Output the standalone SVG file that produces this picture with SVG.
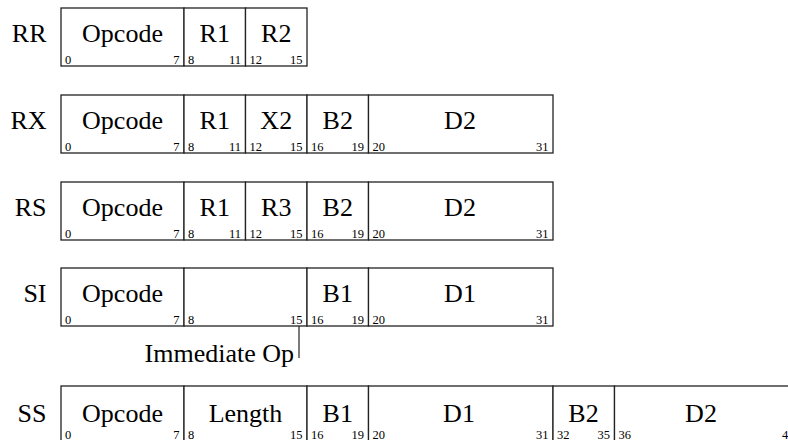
<svg xmlns="http://www.w3.org/2000/svg" width="788" height="440" viewBox="0 0 788 440">
<style>
text{font-family:"Liberation Serif","Times New Roman",serif;fill:#000}
.c{fill:#fff;stroke:#222;stroke-width:1.3}
.t{font-size:26px;text-anchor:middle}
.l{font-size:26px;text-anchor:end}
.n{font-size:12.5px}
.e{text-anchor:end}
</style>
<rect width="788" height="440" fill="#fff"/>
<g id="RR" transform="translate(0,8)">
<text class="l" x="46.5" y="34">RR</text>
<rect class="c" x="61" y="0" width="123" height="58"/>
<rect class="c" x="184" y="0" width="61.5" height="58"/>
<rect class="c" x="245.5" y="0" width="61.5" height="58"/>
<text class="t" x="122.5" y="34">Opcode</text>
<text class="t" x="214.75" y="34">R1</text>
<text class="t" x="276.25" y="34">R2</text>
<text class="n" x="65" y="56">0</text><text class="n e" x="179.5" y="56">7</text>
<text class="n" x="188" y="56">8</text><text class="n e" x="241" y="56">11</text>
<text class="n" x="249.5" y="56">12</text><text class="n e" x="302.5" y="56">15</text>
</g>
<g id="RX" transform="translate(0,95)">
<text class="l" x="46.5" y="34">RX</text>
<rect class="c" x="61" y="0" width="123" height="58"/>
<rect class="c" x="184" y="0" width="61.5" height="58"/>
<rect class="c" x="245.5" y="0" width="61.5" height="58"/>
<rect class="c" x="307" y="0" width="61.5" height="58"/>
<rect class="c" x="368.5" y="0" width="184.5" height="58"/>
<text class="t" x="122.5" y="34">Opcode</text>
<text class="t" x="214.75" y="34">R1</text>
<text class="t" x="276.25" y="34">X2</text>
<text class="t" x="337.75" y="34">B2</text>
<text class="t" x="460" y="34">D2</text>
<text class="n" x="65" y="56">0</text><text class="n e" x="179.5" y="56">7</text>
<text class="n" x="188" y="56">8</text><text class="n e" x="241" y="56">11</text>
<text class="n" x="249.5" y="56">12</text><text class="n e" x="302.5" y="56">15</text>
<text class="n" x="311" y="56">16</text><text class="n e" x="364" y="56">19</text>
<text class="n" x="372.5" y="56">20</text><text class="n e" x="548.5" y="56">31</text>
</g>
<g id="RS" transform="translate(0,182)">
<text class="l" x="46.5" y="34">RS</text>
<rect class="c" x="61" y="0" width="123" height="58"/>
<rect class="c" x="184" y="0" width="61.5" height="58"/>
<rect class="c" x="245.5" y="0" width="61.5" height="58"/>
<rect class="c" x="307" y="0" width="61.5" height="58"/>
<rect class="c" x="368.5" y="0" width="184.5" height="58"/>
<text class="t" x="122.5" y="34">Opcode</text>
<text class="t" x="214.75" y="34">R1</text>
<text class="t" x="276.25" y="34">R3</text>
<text class="t" x="337.75" y="34">B2</text>
<text class="t" x="460" y="34">D2</text>
<text class="n" x="65" y="56">0</text><text class="n e" x="179.5" y="56">7</text>
<text class="n" x="188" y="56">8</text><text class="n e" x="241" y="56">11</text>
<text class="n" x="249.5" y="56">12</text><text class="n e" x="302.5" y="56">15</text>
<text class="n" x="311" y="56">16</text><text class="n e" x="364" y="56">19</text>
<text class="n" x="372.5" y="56">20</text><text class="n e" x="548.5" y="56">31</text>
</g>
<g id="SI" transform="translate(0,268)">
<text class="l" x="46.5" y="34">SI</text>
<rect class="c" x="61" y="0" width="123" height="58"/>
<rect class="c" x="184" y="0" width="123" height="58"/>
<rect class="c" x="307" y="0" width="61.5" height="58"/>
<rect class="c" x="368.5" y="0" width="184.5" height="58"/>
<text class="t" x="122.5" y="34">Opcode</text>
<text class="t" x="337.75" y="34">B1</text>
<text class="t" x="460" y="34">D1</text>
<text class="n" x="65" y="56">0</text><text class="n e" x="179.5" y="56">7</text>
<text class="n" x="188" y="56">8</text><text class="n e" x="302.5" y="56">15</text>
<text class="n" x="311" y="56">16</text><text class="n e" x="364" y="56">19</text>
<text class="n" x="372.5" y="56">20</text><text class="n e" x="548.5" y="56">31</text>
</g>
<g id="connectors">
<line x1="299" y1="326" x2="299" y2="358" stroke="#222" stroke-width="1.2"/>
</g>
<g id="immediate-op">
<text class="l" x="294" y="362">Immediate Op</text>
</g>
<g id="SS" transform="translate(0,386)">
<text class="l" x="46.5" y="36">SS</text>
<rect class="c" x="61" y="0" width="123" height="58"/>
<rect class="c" x="184" y="0" width="123" height="58"/>
<rect class="c" x="307" y="0" width="61.5" height="58"/>
<rect class="c" x="368.5" y="0" width="184.5" height="58"/>
<rect class="c" x="553" y="0" width="61.5" height="58"/>
<rect class="c" x="614.5" y="0" width="184.5" height="58"/>
<text class="t" x="122.5" y="36">Opcode</text>
<text class="t" x="245.5" y="36">Length</text>
<text class="t" x="337.75" y="36">B1</text>
<text class="t" x="459" y="36">D1</text>
<text class="t" x="583.5" y="36">B2</text>
<text class="t" x="701" y="36">D2</text>
<text class="n" x="65" y="52.5">0</text><text class="n e" x="179.5" y="52.5">7</text>
<text class="n" x="188" y="52.5">8</text><text class="n e" x="302.5" y="52.5">15</text>
<text class="n" x="311" y="52.5">16</text><text class="n e" x="364" y="52.5">19</text>
<text class="n" x="372.5" y="52.5">20</text><text class="n e" x="548.5" y="52.5">31</text>
<text class="n" x="557" y="52.5">32</text><text class="n e" x="610" y="52.5">35</text>
<text class="n" x="618.5" y="52.5">36</text><text class="n e" x="794.5" y="52.5">47</text>
</g>
</svg>
